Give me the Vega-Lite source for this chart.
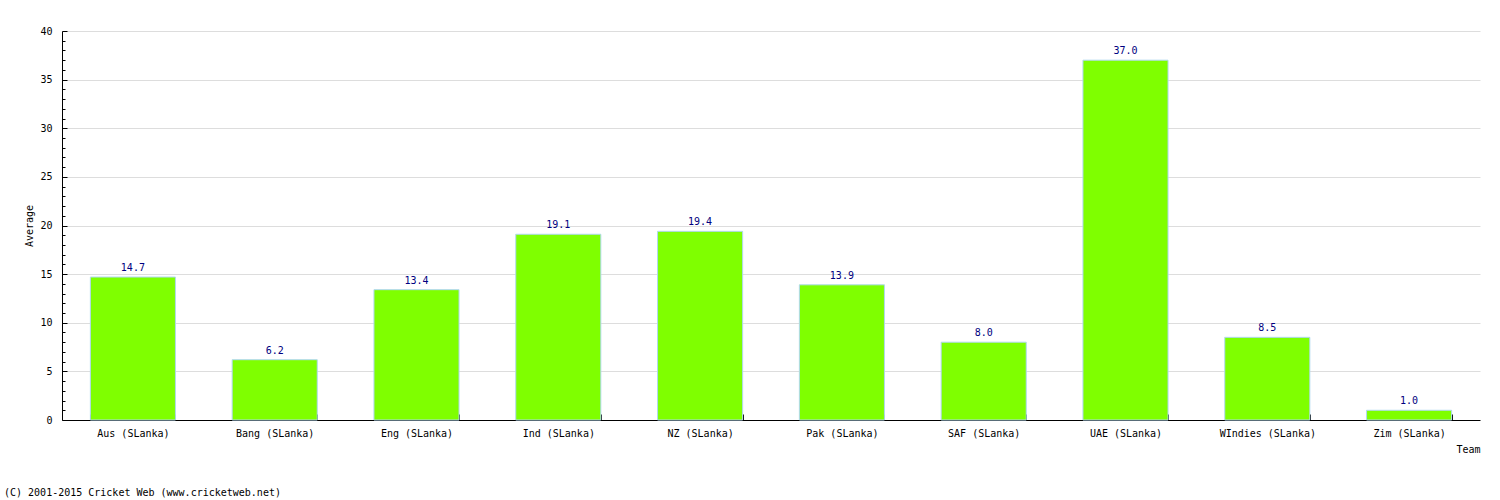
{
  "$schema": "https://vega.github.io/schema/vega-lite/v6.json",
  "width": 1418,
  "height": 389,
  "autosize": {"type": "none"},
  "padding": {"left": 62, "top": 31, "right": 20, "bottom": 80},
  "background": "white",
  "config": {
    "font": "DejaVu Sans Mono",
    "view": {"stroke": null},
    "axis": {"labelFont": "DejaVu Sans Mono", "titleFont": "DejaVu Sans Mono", "labelFontSize": 10, "titleFontSize": 10, "titleFontWeight": "normal", "labelColor": "black", "titleColor": "black", "domainColor": "black", "tickColor": "black"}
  },
  "title": {
    "text": "(C) 2001-2015 Cricket Web (www.cricketweb.net)",
    "orient": "bottom",
    "anchor": "start",
    "frame": "group",
    "font": "DejaVu Sans Mono",
    "fontSize": 10,
    "fontWeight": "normal",
    "color": "black",
    "dx": -58,
    "offset": 34
  },
  "data": {
    "values": [
      {"Team": "Aus (SLanka)", "Average": 14.7},
      {"Team": "Bang (SLanka)", "Average": 6.2},
      {"Team": "Eng (SLanka)", "Average": 13.4},
      {"Team": "Ind (SLanka)", "Average": 19.1},
      {"Team": "NZ (SLanka)", "Average": 19.4},
      {"Team": "Pak (SLanka)", "Average": 13.9},
      {"Team": "SAF (SLanka)", "Average": 8.0},
      {"Team": "UAE (SLanka)", "Average": 37.0},
      {"Team": "WIndies (SLanka)", "Average": 8.5},
      {"Team": "Zim (SLanka)", "Average": 1.0}
    ]
  },
  "encoding": {
    "x": {
      "field": "Team",
      "type": "nominal",
      "sort": null,
      "scale": {"paddingInner": 0.4, "paddingOuter": 0.2},
      "axis": {
        "title": "Team",
        "titleAnchor": "end",
        "titleAlign": "right",
        "titlePadding": 6,
        "labelAngle": 0,
        "tickBand": "extent",
        "tickSize": -6,
        "labelPadding": 14,
        "grid": false
      }
    },
    "y": {
      "field": "Average",
      "type": "quantitative",
      "scale": {"domain": [0, 40], "nice": false},
      "axis": {
        "title": "Average",
        "titlePadding": 5,
        "values": [0,1,2,3,4,5,6,7,8,9,10,11,12,13,14,15,16,17,18,19,20,21,22,23,24,25,26,27,28,29,30,31,32,33,34,35,36,37,38,39,40],
        "labelExpr": "datum.value % 5 === 0 ? datum.label : ''",
        "grid": true,
        "gridColor": {"condition": {"test": "datum.value % 5 === 0 && datum.value > 0", "value": "#dddddd"}, "value": "transparent"},
        "tickSize": {"condition": {"test": "datum.value % 5 === 0", "value": -5}, "value": -3},
        "labelPadding": 15
      }
    }
  },
  "layer": [
    {
      "mark": {"type": "bar", "fill": "#7FFF00", "stroke": "#b0d8f0", "strokeWidth": 1},
      "encoding": {}
    },
    {
      "mark": {"type": "text", "baseline": "bottom", "dy": -4, "color": "#000080", "fontSize": 10, "font": "DejaVu Sans Mono"},
      "encoding": {
        "text": {"field": "Average", "type": "quantitative", "format": ".1f"}
      }
    }
  ]
}
